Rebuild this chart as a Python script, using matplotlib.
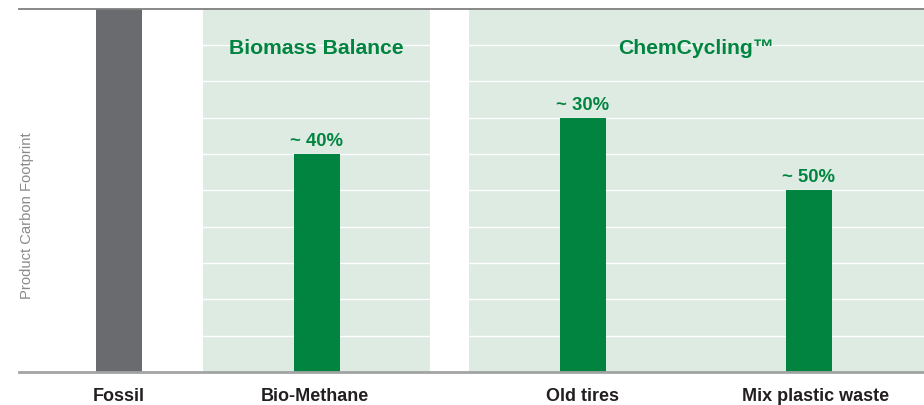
import matplotlib
matplotlib.use("Agg")
import matplotlib.pyplot as plt
from matplotlib.transforms import ScaledTranslation

plt.rcParams['font.family'] = ['Liberation Sans', 'DejaVu Sans']

# Dane
categories = ["Fossil", "Bio-Methane", "Old tires", "Mix plastic waste"]
values = [10, 6, 7, 5]
labels = [None, "~ 40%", "~ 30%", "~ 50%"]
groups = ["Biomass Balance", "ChemCycling\u2122"]

# Uklad (jednostki ~ piksele)
positions = [100, 298, 564, 790]
label_shift = [0, -2, 0, 7]   # przesuniecie podpisow osi x, px
group_spans = [(184, 411), (450, 905)]
bar_w = 46

green = "#00843F"
gray_bar = "#6A6B6F"
panel = "#DDEBE3"

fig = plt.figure(figsize=(9.24, 4.06), dpi=100)
ax = fig.add_axes([19 / 924, 33 / 406, 905 / 924, 363.5 / 406])
ax.set_xlim(0, 905)
ax.set_ylim(0, 10)

# Panele tla
for (x0, x1), name in zip(group_spans, groups):
    ax.axvspan(x0, x1, color=panel, zorder=0, lw=0)
    ax.text((x0 + x1) / 2, 8.78, name, ha="center", va="baseline",
            color=green, fontsize=15.2, fontweight="bold", zorder=4)

# Linie siatki
for y in range(1, 10):
    ax.axhline(y, color="white", lw=1.0, zorder=1)

colors = [gray_bar] + [green] * 3
ax.bar(positions, values, width=bar_w, color=colors, zorder=2)

for x, v, lab in zip(positions, values, labels):
    if lab:
        ax.annotate(lab, (x, v), xytext=(0, 6.5), textcoords="offset points",
                    ha="center", va="baseline", color=green,
                    fontsize=13.3, fontweight="bold", zorder=4)

ax.set_xticks(positions)
ax.set_xticklabels(categories, fontsize=13, fontweight="bold", color="#231F20")
ax.tick_params(axis="x", length=0, pad=11)
for t, dx in zip(ax.get_xticklabels(), label_shift):
    t.set_transform(t.get_transform() + ScaledTranslation(dx / 100, 0, fig.dpi_scale_trans))
ax.set_yticks([])

for s in ["left", "right"]:
    ax.spines[s].set_visible(False)
ax.spines["top"].set_color("#7F7F7F")
ax.spines["top"].set_linewidth(1.3)
ax.spines["bottom"].set_color("#A2A4A3")
ax.spines["bottom"].set_linewidth(2)
ax.spines["bottom"].set_zorder(3)

fig.text(27 / 924, 1 - 216 / 406, "Product Carbon Footprint", rotation=90,
         ha="center", va="center", fontsize=10.6, color="#8A8A8A")

fig.savefig("out.png", dpi=100)
